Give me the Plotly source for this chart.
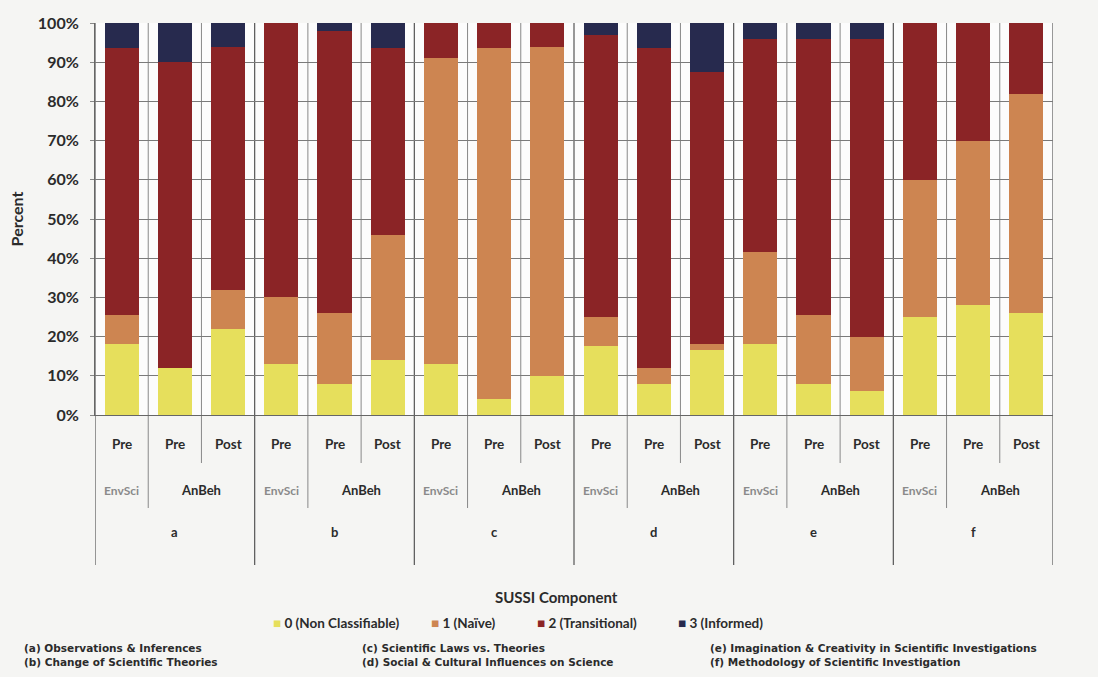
import plotly.graph_objects as go

components = ['a', 'b', 'c', 'd', 'e', 'f']
courses = ['EnvSci', 'AnBeh', 'AnBeh']
tests = ['Pre', 'Pre', 'Post']

non_classifiable = [18, 12, 22, 13, 8, 14, 13, 4, 10, 17.5, 8, 16.5, 18, 8, 6, 25, 28, 26]
naive = [7.5, 0, 10, 17, 18, 32, 78, 89.5, 84, 7.5, 4, 1.5, 23.5, 17.5, 14, 35, 42, 56]
transitional = [68, 78, 62, 70, 72, 47.5, 9, 6.5, 6, 72, 81.5, 69.5, 54.5, 70.5, 76, 40, 30, 18]
informed = [6.5, 10, 6, 0, 2, 6.5, 0, 0, 0, 3, 6.5, 12.5, 4, 4, 4, 0, 0, 0]

series_names = ['0 (Non Classifiable)', '1 (Naïve)', '2 (Transitional)', '3 (Informed)']
series_colors = ['#E6DF5C', '#CD8551', '#8B2426', '#272A4E']
footnotes = ['(a) Observations & Inferences', '(b) Change of Scientific Theories',
             '(c) Scientific Laws vs. Theories', '(d) Social & Cultural Influences on Science',
             '(e) Imagination & Creativity in Scientific Investigations',
             '(f) Methodology of Scientific Investigation']

n = len(components) * len(tests)
xs = list(range(n))
FONT = 'Lato'
TXT = '#2b2b2b'

fig = go.Figure()
for name, vals, col in zip(series_names, [non_classifiable, naive, transitional, informed], series_colors):
    fig.add_trace(go.Bar(x=xs, y=vals, name=name, showlegend=False,
                         marker=dict(color=col, line=dict(width=0))))

shapes = []
annotations = []
PH = 392.0  # plot height px
PW = 958.0  # plot width px


def py(px_below):
    return -px_below / PH


def pxx(px):
    return (px - 95) / PW


for i in range(n + 1):
    xb = i - 0.5
    if i % 3 == 0:
        y0 = py(150)
        w, c = 1.2, '#555'
    elif i % 3 == 1:
        y0 = py(93)
        w, c = 1, '#888'
    else:
        y0 = py(48)
        w, c = 1, '#888'
    shapes.append(dict(type='line', xref='x', yref='paper', x0=xb, x1=xb, y0=y0, y1=1,
                       line=dict(color=c, width=w), layer='below'))

for i in range(n):
    annotations.append(dict(x=i, y=py(39), xref='x', yref='paper', text=tests[i % 3], showarrow=False,
                            font=dict(family=FONT, size=13.5, color=TXT, weight='bold')))
for g, comp in enumerate(components):
    annotations.append(dict(x=g * 3, y=py(85), xref='x', yref='paper', text=courses[0], showarrow=False,
                            font=dict(family=FONT, size=12, color='#8a8a8a', weight='bold')))
    annotations.append(dict(x=g * 3 + 1.5, y=py(85), xref='x', yref='paper', text=courses[1], showarrow=False,
                            font=dict(family=FONT, size=13, color=TXT, weight='bold')))
    annotations.append(dict(x=g * 3 + 1, y=py(127), xref='x', yref='paper', text=comp, showarrow=False,
                            font=dict(family=FONT, size=13, color=TXT, weight='bold')))

annotations.append(dict(x=pxx(556), y=py(193), xref='paper', yref='paper', text='SUSSI Component', showarrow=False,
                        font=dict(family=FONT, size=15, color=TXT, weight='bold')))

# legend (manual, to match the compact square-marker layout)
legend_x = [271, 429, 535, 676]
for name, col, lx in zip(series_names, series_colors, legend_x):
    annotations.append(dict(x=pxx(lx), y=py(218), xref='paper', yref='paper', xanchor='left',
                            text=f'<span style="color:{col}">■</span> {name}', showarrow=False,
                            font=dict(family=FONT, size=13.5, color=TXT, weight='bold')))

cols_x = [22, 360, 708]
for k, t in enumerate(footnotes):
    col = k // 2
    row = k % 2
    annotations.append(dict(x=pxx(cols_x[col]), y=py(241 + row * 14), xref='paper', yref='paper', text=t,
                            showarrow=False, xanchor='left',
                            font=dict(family='DejaVu Sans', size=10.5, color=TXT, weight='bold')))

fig.update_layout(
    width=1098, height=677,
    margin=dict(l=95, r=45, t=23, b=262),
    barmode='stack', bargap=0.36,
    paper_bgcolor='#f5f5f3', plot_bgcolor='#fcfcfc',
    font=dict(family=FONT, color=TXT),
    shapes=shapes, annotations=annotations,
    showlegend=False,
)
fig.update_xaxes(range=[-0.5, n - 0.5], showticklabels=False, showgrid=False, zeroline=False,
                 showline=True, linecolor='#666', linewidth=1, ticks='')
fig.update_yaxes(range=[0, 100], dtick=10, ticksuffix='%', showgrid=True, gridcolor='#7a7a7a', gridwidth=1,
                 zeroline=False, showline=True, linecolor='#666', linewidth=1,
                 ticks='outside', ticklen=4, tickcolor='#888', ticklabelstandoff=8,
                 tickfont=dict(family=FONT, size=16, color=TXT, weight='bold'),
                 title=dict(text='Percent', font=dict(family=FONT, size=16, color=TXT, weight='bold'), standoff=10))

fig.write_html('out.html')
